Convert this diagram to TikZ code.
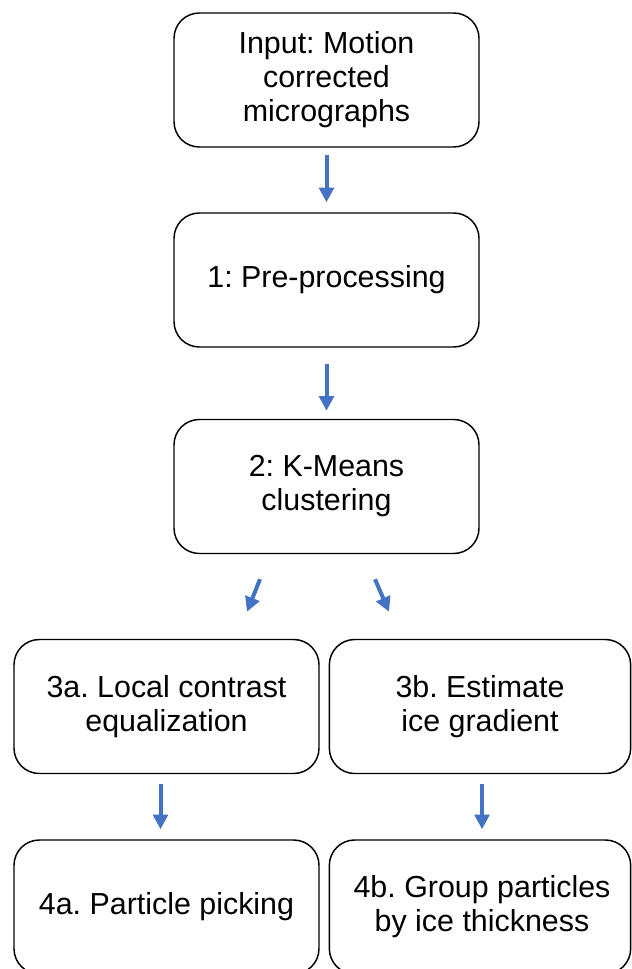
\documentclass[tikz,border=0pt]{standalone}
\usepackage{fontspec}
\setmainfont{Liberation Sans}
\frenchspacing
\usetikzlibrary{arrows.meta,calc}
\definecolor{arrblue}{HTML}{4472C4}
\tikzset{
  box/.style={draw=black, line width=1.1pt, rounded corners=19pt, minimum width=228.75pt, minimum height=100.5pt, inner sep=0pt, align=center, font=\fontsize{22.8}{25.5}\selectfont},
  arr/.style={draw=arrblue, line width=3pt, -{Triangle[length=11pt,width=11pt]}}
}
\begin{document}
\begin{tikzpicture}[x=0.75pt,y=-0.75pt]
\useasboundingbox (0,0) rectangle (631,969);
\node[box] (b1) at (326.5,80) {Input: Motion\\corrected\\micrographs};
\node[box] (b2) at (326.5,280) {1: Pre-processing};
\node[box] (b3) at (326.5,486.5) {2: K-Means\\clustering};
\node[box] (b3a) at (166.5,706.5) {3a. Local contrast\\equalization};
\node[box, minimum width=226pt] (b3b) at (480,706.5) {3b. Estimate\\ice gradient};
\node[box] (b4a) at (166.5,907) {4a. Particle picking};
\node[box, minimum width=226pt] (b4b) at (480,907) {\hspace*{3pt}4b. Group particles\\\hspace*{3pt}by ice thickness};
\draw[arr, shorten <=5.25pt, shorten >=7.5pt] (b1) -- (b2);
\draw[arr, shorten <=12pt, shorten >=6pt] (b2) -- (b3);
\draw[arr] ($(b3.south)+(-66.5,25)$) -- ($(b3a.north)+(80.5,-27)$);
\draw[arr] ($(b3.south)+(48.5,25)$) -- ($(b3b.north)+(-91,-27)$);
\draw[arr, shorten <=7.5pt, shorten >=7.5pt] ($(b3a.south)+(-6,0)$) -- ($(b4a.north)+(-6,0)$);
\draw[arr, shorten <=7.5pt, shorten >=7.5pt] ($(b3b.south)+(2,0)$) -- ($(b4b.north)+(2,0)$);
\end{tikzpicture}
\end{document}
